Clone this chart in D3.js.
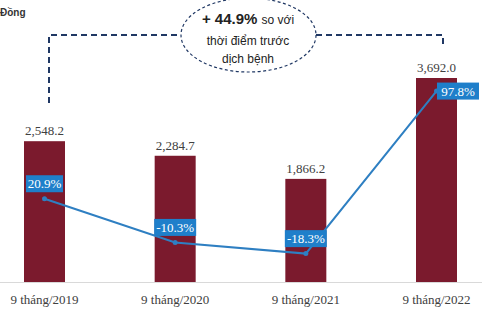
<html>
<head>
<meta charset="utf-8">
<style>
    body { margin: 0; background: #fff; }
    svg text { font-family: "Liberation Serif", serif; }
</style>
<script src="https://cdn.jsdelivr.net/npm/d3@7"></script>
</head>
<body>
<div class="mainView"></div>
<script>
    // data
    let periods = ["9 tháng/2019", "9 tháng/2020", "9 tháng/2021", "9 tháng/2022"];
    let amounts = [2548.2, 2284.7, 1866.2, 3692.0];
    let growth = [20.9, -10.3, -18.3, 97.8];
    let unitLabel = "Đồng";
    let noteBold = "+ 44.9%";
    let noteLines = ["so với", "thời điểm trước", "dịch bệnh"];

    let width = 482, height = 310;
    let baseY = 282;
    let svg = d3.select(".mainView").append("svg")
        .attr("width", width).attr("height", height);

    let xScale = d3.scalePoint().domain(periods).range([44.5, 436.5]);
    let yScale = d3.scaleLinear().domain([0, 3692]).range([baseY, 78]);
    let y2Scale = d3.scaleLinear().domain([-40, 120]).range([284, 60]);
    let barW = 41;

    // baseline
    svg.append("line")
        .attr("x1", 0).attr("x2", width)
        .attr("y1", baseY + 0.5).attr("y2", baseY + 0.5)
        .style("stroke", "#d9d9d9");

    // bars
    svg.selectAll("rect.bar").data(amounts).enter().append("rect")
        .attr("class", "bar")
        .attr("x", (d, i) => xScale(periods[i]) - barW / 2)
        .attr("y", d => yScale(d))
        .attr("width", barW)
        .attr("height", d => baseY - yScale(d))
        .attr("fill", "#7b1a2d");

    // bar value labels
    svg.selectAll("text.val").data(amounts).enter().append("text")
        .attr("x", (d, i) => xScale(periods[i]))
        .attr("y", d => yScale(d) - 6)
        .attr("text-anchor", "middle")
        .style("font-size", "13px")
        .style("fill", "#404040")
        .text(d => d3.format(",.1f")(d));

    // x axis labels
    svg.selectAll("text.cat").data(periods).enter().append("text")
        .attr("x", d => xScale(d))
        .attr("y", 304)
        .attr("text-anchor", "middle")
        .style("font-size", "13px")
        .style("fill", "#404040")
        .text(d => d);

    // growth line
    let line = d3.line()
        .x((d, i) => xScale(periods[i]))
        .y(d => y2Scale(d));
    svg.append("path")
        .attr("d", line(growth))
        .attr("fill", "none")
        .style("stroke", "#2e7fc2")
        .style("stroke-width", 2);
    svg.selectAll("circle").data(growth).enter().append("circle")
        .attr("cx", (d, i) => xScale(periods[i]))
        .attr("cy", d => y2Scale(d))
        .attr("r", 2.5)
        .attr("fill", "#2e7fc2");

    // growth labels in blue boxes
    let g = svg.selectAll("g.lab").data(growth).enter().append("g")
        .attr("transform", (d, i) => {
            let x = xScale(periods[i]), y = y2Scale(d);
            return i === growth.length - 1
                ? "translate(" + (x + 21.5) + "," + y + ")"
                : "translate(" + x + "," + (y - 15) + ")";
        });
    g.append("rect")
        .attr("x", (d, i) => i === 0 ? -18.5 : -21)
        .attr("y", -8.5)
        .attr("width", (d, i) => i === 0 ? 37 : 42)
        .attr("height", 17)
        .attr("fill", "#1f7fca");
    g.append("text")
        .attr("text-anchor", "middle")
        .attr("y", 4.5)
        .style("font-size", "13px")
        .style("fill", "#fff")
        .text(d => d.toFixed(1) + "%");

    // unit label
    svg.append("text")
        .attr("x", 0).attr("y", 16)
        .style("font-family", "'Liberation Sans', sans-serif")
        .style("font-size", "10px")
        .style("font-weight", "bold")
        .style("fill", "#333")
        .text(unitLabel);

    // dashed bracket
    let navy = "#203864";
    let x0 = xScale(periods[0]) + 4.5, x1 = xScale(periods[3]) + 6.5;
    svg.append("path")
        .attr("d", "M" + x0 + ",103 V35 H181 M316,35 H" + x1 + " V48")
        .attr("fill", "none")
        .style("stroke", navy)
        .style("stroke-width", 2)
        .style("stroke-dasharray", "6,4");

    // ellipse note
    svg.append("ellipse")
        .attr("cx", 248.5).attr("cy", 35)
        .attr("rx", 67.5).attr("ry", 37)
        .attr("fill", "#fff")
        .style("stroke", navy)
        .style("stroke-width", 1.2)
        .style("stroke-dasharray", "3,2.5");

    let note = svg.append("text")
        .attr("x", 248).attr("y", 24)
        .attr("text-anchor", "middle")
        .style("font-family", "'Liberation Sans', sans-serif")
        .style("fill", "#222");
    note.append("tspan")
        .style("font-size", "15px").style("font-weight", "bold")
        .text(noteBold + " ");
    note.append("tspan")
        .style("font-size", "12px")
        .text(noteLines[0]);
    noteLines.slice(1).forEach((t, i) => {
        svg.append("text")
            .attr("x", 248).attr("y", 45 + i * 18)
            .attr("text-anchor", "middle")
            .style("font-family", "'Liberation Sans', sans-serif")
            .style("font-size", "12px")
            .style("fill", "#222")
            .text(t);
    });
</script>
</body>
</html>
